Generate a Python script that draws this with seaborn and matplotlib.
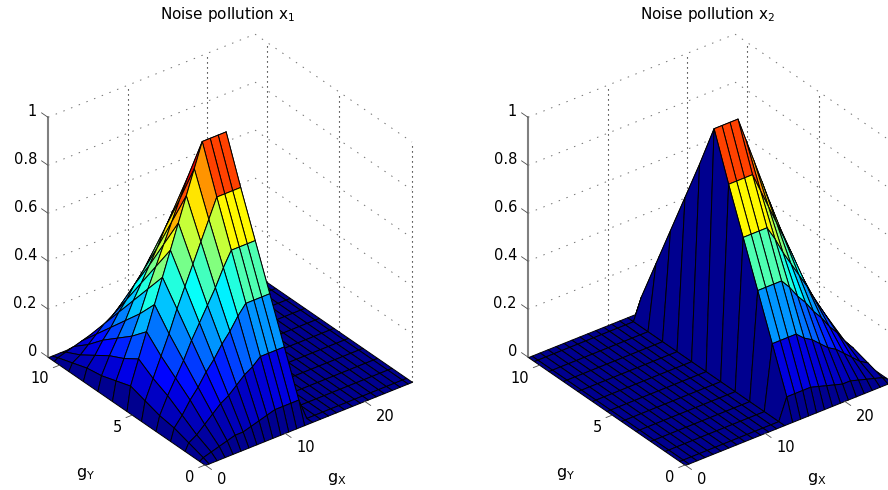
import numpy as np
import seaborn as sns
import matplotlib.pyplot as plt
from mpl_toolkits.mplot3d import proj3d

# Grid (first and last cells are half width)
g_x = [0, 0.45, 1.45, 2.45, 3.45, 4.45, 5.45, 6.45, 7.45, 8.45, 9.45, 10.45, 11.45, 12.45,
       13.45, 14.45, 15.45, 16.45, 17.45, 18.45, 19.45, 20.45, 21.45, 22.45, 23.45, 24.45, 25.45, 26]
g_y = [0, 0.4, 1.4, 2.4, 3.4, 4.4, 5.4, 6.4, 7.4, 8.4, 9.4, 10.4, 10.8]

# Columns g_x[0:14], the rest of the surface is flat at zero
noise_x1 = [
    [0, 0.00, 0.00, 0.00, 0.00, 0.00, 0.00, 0.00, 0.00, 0.00, 0.00, 0.00, 0.00, 0.00],
    [0, 0.01, 0.02, 0.03, 0.04, 0.05, 0.05, 0.06, 0.07, 0.08, 0.09, 0.09, 0.09, 0.09],
    [0, 0.03, 0.05, 0.08, 0.11, 0.14, 0.16, 0.19, 0.22, 0.24, 0.27, 0.27, 0.27, 0.27],
    [0, 0.05, 0.09, 0.14, 0.18, 0.23, 0.27, 0.32, 0.36, 0.41, 0.45, 0.45, 0.45, 0.45],
    [0, 0.06, 0.13, 0.19, 0.25, 0.32, 0.38, 0.44, 0.50, 0.57, 0.63, 0.63, 0.63, 0.63],
    [0, 0.08, 0.16, 0.24, 0.32, 0.41, 0.49, 0.57, 0.65, 0.73, 0.81, 0.81, 0.81, 0.81],
    [0, 0.10, 0.20, 0.30, 0.40, 0.50, 0.60, 0.70, 0.80, 0.90, 1.00, 1.00, 1.00, 1.00],
    [0, 0.08, 0.16, 0.24, 0.32, 0.41, 0.49, 0.57, 0.65, 0.73, 0.81, 0.81, 0.81, 0.81],
    [0, 0.06, 0.13, 0.19, 0.25, 0.32, 0.38, 0.44, 0.50, 0.57, 0.63, 0.63, 0.63, 0.63],
    [0, 0.05, 0.09, 0.14, 0.18, 0.23, 0.27, 0.32, 0.36, 0.41, 0.45, 0.45, 0.45, 0.45],
    [0, 0.03, 0.05, 0.08, 0.11, 0.14, 0.16, 0.19, 0.22, 0.24, 0.27, 0.27, 0.27, 0.27],
    [0, 0.01, 0.02, 0.03, 0.04, 0.05, 0.05, 0.06, 0.07, 0.08, 0.09, 0.09, 0.09, 0.09],
    [0, 0.00, 0.00, 0.00, 0.00, 0.00, 0.00, 0.00, 0.00, 0.00, 0.00, 0.00, 0.00, 0.00],
]

# Columns g_x[14:28], everything before them is flat at zero
noise_x2 = [
    [0.00, 0.00, 0.00, 0.00, 0.00, 0.00, 0.00, 0.00, 0.00, 0.00, 0.00, 0.00, 0.00, 0],
    [0.09, 0.09, 0.09, 0.09, 0.08, 0.07, 0.06, 0.05, 0.05, 0.04, 0.03, 0.02, 0.01, 0],
    [0.27, 0.27, 0.27, 0.27, 0.24, 0.22, 0.19, 0.16, 0.14, 0.11, 0.08, 0.05, 0.03, 0],
    [0.45, 0.45, 0.45, 0.45, 0.41, 0.36, 0.32, 0.27, 0.23, 0.18, 0.14, 0.09, 0.05, 0],
    [0.63, 0.63, 0.63, 0.63, 0.57, 0.50, 0.44, 0.38, 0.32, 0.25, 0.19, 0.13, 0.06, 0],
    [0.81, 0.81, 0.81, 0.81, 0.73, 0.65, 0.57, 0.49, 0.41, 0.32, 0.24, 0.16, 0.08, 0],
    [1.00, 1.00, 1.00, 1.00, 0.90, 0.80, 0.70, 0.60, 0.50, 0.40, 0.30, 0.20, 0.10, 0],
    [0.81, 0.81, 0.81, 0.81, 0.73, 0.65, 0.57, 0.49, 0.41, 0.32, 0.24, 0.16, 0.08, 0],
    [0.63, 0.63, 0.63, 0.63, 0.57, 0.50, 0.44, 0.38, 0.32, 0.25, 0.19, 0.13, 0.06, 0],
    [0.45, 0.45, 0.45, 0.45, 0.41, 0.36, 0.32, 0.27, 0.23, 0.18, 0.14, 0.09, 0.05, 0],
    [0.27, 0.27, 0.27, 0.27, 0.24, 0.22, 0.19, 0.16, 0.14, 0.11, 0.08, 0.05, 0.03, 0],
    [0.09, 0.09, 0.09, 0.09, 0.08, 0.07, 0.06, 0.05, 0.05, 0.04, 0.03, 0.02, 0.01, 0],
    [0.00, 0.00, 0.00, 0.00, 0.00, 0.00, 0.00, 0.00, 0.00, 0.00, 0.00, 0.00, 0.00, 0],
]

x_ticks = [0, 10, 20]
y_ticks = [0, 5, 10]
z_ticks = [0, 0.2, 0.4, 0.6, 0.8, 1]
z_tick_labels = ["0", "0.2", "0.4", "0.6", "0.8", "1"]

W, H = 888, 490
X_MAX, Y_MAX = 26, 10.8

sns.set_theme(style="white")
plt.rcParams["font.family"] = ["DejaVu Sans"]
plt.rcParams["mathtext.default"] = "regular"

# MATLAB's jet, seaborn blends between the anchors
jet = sns.blend_palette([(0, 0, 0.5625), (0, 0, 1), (0, 0.5, 1), (0, 1, 1), (0.5, 1, 0.5),
                         (1, 1, 0), (1, 0.5, 0), (1, 0, 0), (0.5, 0, 0)], n_colors=64, as_cmap=True)


def to_px(ax, x, y, z):
    ax.apply_aspect()
    xs, ys, _ = proj3d.proj_transform(np.array([x]), np.array([y]), np.array([z]), ax.get_proj())
    px, py = ax.transData.transform((xs[0], ys[0]))
    return px, H - py


# Scale and shift the axes so the front and right floor corners land where they are in the picture
def fit_axes(ax, size, shift):
    ax.set_position([0.1, 0.1, size / W, size / H])
    x0, y0 = to_px(ax, 0, 0, 0)
    x1, _ = to_px(ax, X_MAX, 0, 0)
    size2 = size * 207 / (x1 - x0)
    ax.set_position([0.1, 0.1, size2 / W, size2 / H])
    x0, y0 = to_px(ax, 0, 0, 0)
    ax.set_position([0.1 + (205 + shift - x0) / W, 0.1 - (465 - y0) / H, size2 / W, size2 / H])


def tick_label(fig, ax, x, y, z, text, ha):
    px, py = to_px(ax, x, y, z)
    fig.text(px / W, 1 - py / H, text, ha=ha, va="center", fontsize=10.5, color="black")


def draw_panel(fig, z_values, title, shift):
    ax = fig.add_axes([0.1, 0.1, 0.4, 0.4], projection="3d", proj_type="ortho")
    ax.computed_zorder = False
    ax.set_axis_off()
    ax.patch.set_alpha(0)
    ax.view_init(elev=31.7, azim=-127.4)
    ax.set_xlim(0, X_MAX, view_margin=0)
    ax.set_ylim(0, Y_MAX, view_margin=0)
    ax.set_zlim(0, 1, view_margin=0)
    ax.set_box_aspect((260.7, 258.6, 282))
    fit_axes(ax, 350, shift)

    # Back walls
    wall = dict(color="0.45", lw=0.7, ls=(0, (1.5, 7)), zorder=1)
    for z in z_ticks[1:]:
        ax.plot([0, X_MAX, X_MAX], [Y_MAX, Y_MAX, 0], [z, z, z], **wall)
    upright = dict(color="black", lw=0.8, ls=(0, (1, 3.5)), zorder=1)
    for x in x_ticks[1:]:
        ax.plot([x, x], [Y_MAX, Y_MAX], [0, 1], **upright)
    for y in y_ticks:
        ax.plot([X_MAX, X_MAX], [y, y], [0, 1], **upright)
    ax.plot([0, 0], [Y_MAX, Y_MAX], [0, 1], color="0.5", lw=1.5, zorder=1)

    # Cell by cell from the far corner to the near one, the depth sort gets the steep wall wrong
    xx, yy = np.meshgrid(g_x, g_y)
    zz = np.array(z_values)
    order = 2.0
    for c in range(len(g_x) - 2, -1, -1):
        for r in range(len(g_y) - 2, -1, -1):
            cell = (slice(r, r + 2), slice(c, c + 2))
            ax.plot_surface(xx[cell], yy[cell], zz[cell], facecolors=jet(zz[cell]), rstride=1, cstride=1,
                            shade=False, edgecolor="black", linewidth=0.7, zorder=order)
            order += 0.001

    # Ticks and labels
    tick = dict(color="0.3", lw=0.6, zorder=3)
    for z, label in zip(z_ticks, z_tick_labels):
        ax.plot([0, 0], [Y_MAX, Y_MAX + 0.45], [z, z], **tick)
        tick_label(fig, ax, 0, Y_MAX + 0.76, z - 0.008, label, "right")
    for y in y_ticks:
        ax.plot([0, -0.8], [y, y], [0, 0], **tick)
        tick_label(fig, ax, -2.33, y - 0.55, 0, str(y), "right")
    for x in x_ticks:
        ax.plot([x, x], [0, -0.45], [0, 0], **tick)
        tick_label(fig, ax, x - 0.78, -1.25, 0, str(x), "left")

    fig.text((228 + shift) / W, 1 - 14 / H, title, ha="center", va="center", fontsize=11, color="black")
    fig.text((86 + shift) / W, 1 - 474 / H, "$g_Y$", ha="center", va="center", fontsize=11.5, color="black")
    fig.text((337 + shift) / W, 1 - 479 / H, "$g_X$", ha="center", va="center", fontsize=11.5, color="black")


fig = plt.figure(figsize=(W / 100, H / 100), dpi=100, facecolor="white")
flat = np.zeros((len(g_y), 14))
draw_panel(fig, np.hstack([noise_x1, flat]), "Noise pollution $x_1$", 0)
draw_panel(fig, np.hstack([flat, noise_x2]), "Noise pollution $x_2$", 480)
fig.savefig("out.png", dpi=100)
